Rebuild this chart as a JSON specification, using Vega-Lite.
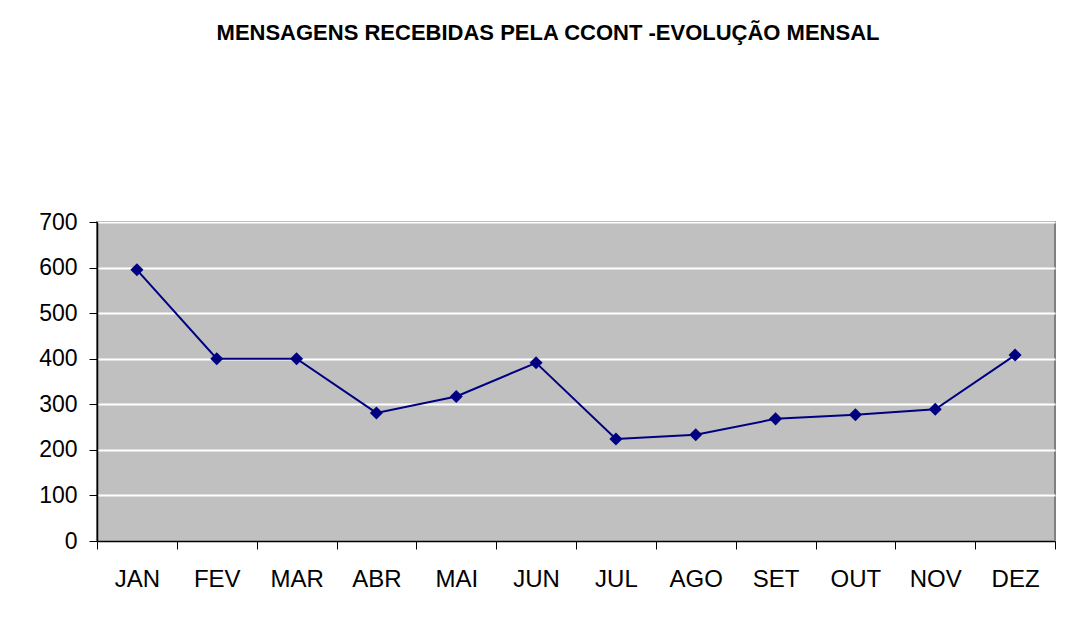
{
  "$schema": "https://vega.github.io/schema/vega-lite/v6.json",
  "autosize": {"type": "none"},
  "width": 958,
  "height": 319,
  "padding": {"left": 97, "top": 222, "right": 11, "bottom": 83},
  "background": "white",
  "title": {
    "text": "MENSAGENS RECEBIDAS PELA CCONT -EVOLUÇÃO MENSAL",
    "font": "Liberation Sans",
    "fontSize": 22,
    "fontWeight": "bold",
    "color": "black",
    "anchor": "middle",
    "frame": "group",
    "offset": 166,
    "dx": -28
  },
  "data": {
    "values": [
      {"mes": "JAN", "valor": 595},
      {"mes": "FEV", "valor": 400},
      {"mes": "MAR", "valor": 400},
      {"mes": "ABR", "valor": 281},
      {"mes": "MAI", "valor": 317},
      {"mes": "JUN", "valor": 391},
      {"mes": "JUL", "valor": 224},
      {"mes": "AGO", "valor": 233},
      {"mes": "SET", "valor": 268},
      {"mes": "OUT", "valor": 277},
      {"mes": "NOV", "valor": 289},
      {"mes": "DEZ", "valor": 408}
    ]
  },
  "encoding": {
    "x": {
      "field": "mes",
      "type": "ordinal",
      "sort": null,
      "scale": {"paddingInner": 0, "paddingOuter": 0},
      "axis": {
        "title": null,
        "labelAngle": 0,
        "labelFont": "Liberation Sans",
        "labelFontSize": 24,
        "labelColor": "black",
        "labelPadding": 18,
        "tickBand": "extent",
        "tickSize": 8,
        "tickColor": "black",
        "domainColor": "black",
        "domainWidth": 1.5,
        "grid": false
      }
    },
    "y": {
      "field": "valor",
      "type": "quantitative",
      "scale": {"domain": [0, 700], "nice": false},
      "axis": {
        "title": null,
        "values": [0, 100, 200, 300, 400, 500, 600, 700],
        "labelFont": "Liberation Sans",
        "labelFontSize": 23,
        "labelColor": "black",
        "labelPadding": 12,
        "tickSize": 8,
        "tickColor": "black",
        "domainColor": "black",
        "domainWidth": 1.5,
        "grid": true,
        "gridColor": "white",
        "gridWidth": 2,
        "gridOpacity": 1
      }
    }
  },
  "layer": [
    {"mark": {"type": "line", "color": "#000080", "strokeWidth": 2}},
    {"mark": {"type": "point", "shape": "diamond", "filled": true, "color": "#000080", "opacity": 1, "size": 170}}
  ],
  "config": {
    "view": {"fill": "#C0C0C0", "stroke": "#808080", "strokeWidth": 2}
  }
}
